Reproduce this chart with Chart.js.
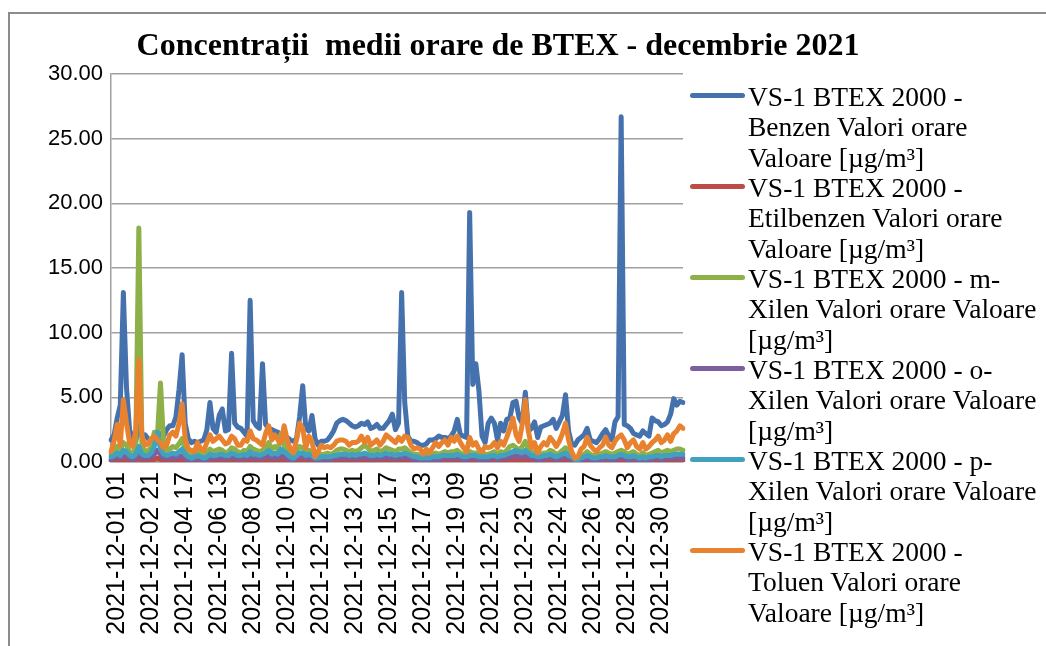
<!DOCTYPE html>
<html>
<head>
  <meta charset="utf-8" />
  <title>Concentratii medii orare de BTEX - decembrie 2021</title>
  <script src="https://cdn.jsdelivr.net/npm/chart.js"></script>
  <style>
    body { margin: 0; background: #fff; }
    #wrap { position: relative; width: 1046px; height: 646px; overflow: hidden; }
    #frame {
      position: absolute; left: 8px; top: 12px; right: -4px; bottom: -4px;
      border-left: 2px solid #8c8c8c; border-top: 2px solid #8c8c8c;
    }
    #title {
      position: absolute; left: 98px; width: 800px; top: 24px;
      text-align: center; font: bold 32px 'Liberation Serif', serif; line-height: 40px;
    }
    #chart-box { position: absolute; left: 0; top: 0; width: 1046px; height: 646px; }
    #legend { position: absolute; left: 690px; top: 82px; }
    .item { position: relative; height: 91px; }
    .swatch { position: absolute; left: 0; top: 11px; width: 55px; height: 5px; border-radius: 3px; }
    .txt {
      position: absolute; left: 58px; top: 0; white-space: nowrap;
      font: 27.5px 'Liberation Serif', serif; line-height: 30.33px; color: #000;
    }
  </style>
</head>
<body>
  <div id="wrap">
    <div id="frame"></div>
    <div id="chart-box"><canvas id="chart"></canvas></div>
    <div id="title">Concentrații&nbsp; medii orare de BTEX - decembrie 2021</div>
    <div id="legend"></div>
  </div>

  <script>
    // every 4th hourly value, starting 2021-12-01 01
    var days = [];
    for (var d = 1; d <= 31; d++) days.push(d);
    var hours = [1, 5, 9, 13, 17, 21];
    var categories = [];
    days.forEach(function (d) {
      hours.forEach(function (h) {
        categories.push('2021-12-' + String(d).padStart(2, '0') + ' ' + String(h).padStart(2, '0'));
      });
    });

    var tickLabels = ['2021-12-01 01', '2021-12-02 21', '2021-12-04 17', '2021-12-06 13', '2021-12-08 09',
      '2021-12-10 05', '2021-12-12 01', '2021-12-13 21', '2021-12-15 17', '2021-12-17 13', '2021-12-19 09',
      '2021-12-21 05', '2021-12-23 01', '2021-12-24 21', '2021-12-26 17', '2021-12-28 13', '2021-12-30 09'];

    var benzen = [
      1.7, 2.1, 3.4, 4.4, 13.1, 5.8, 2.5, 1.8, 1.6, 2.8,
      2.0, 2.1, 1.8, 1.7, 1.9, 2.0, 2.2, 2.0, 2.5, 2.8,
      2.8, 3.5, 5.6, 8.3, 3.0, 1.8, 1.5, 1.6, 1.5, 1.6,
      1.7, 2.5, 4.6, 2.6, 2.3, 3.6, 4.1, 2.4, 2.5, 8.4,
      3.0, 2.7, 2.6, 2.3, 2.0, 12.5, 3.2, 2.8, 2.6, 7.6,
      2.9, 2.6, 2.5, 2.4, 2.3, 2.1, 2.1, 1.9, 1.7, 1.6,
      1.8, 3.5, 5.9, 2.6, 2.4, 3.6, 1.8, 1.3, 1.6, 1.6,
      1.7, 2.0, 2.4, 3.0, 3.2, 3.3, 3.2, 3.0, 2.8, 2.7,
      2.8, 3.0, 2.9, 3.1, 2.6, 2.7, 2.9, 2.6, 2.6, 2.9,
      3.2, 3.7, 2.5, 3.0, 13.1, 4.6, 2.0, 1.6, 1.6, 1.5,
      1.3, 1.3, 1.4, 1.7, 1.7, 1.8, 2.0, 1.9, 1.9, 1.8,
      2.0, 2.4, 3.3, 2.1, 2.0, 1.9, 19.3, 6.0, 7.6, 5.5,
      2.0, 1.5, 3.0, 3.4, 3.0, 1.7, 3.0, 2.4, 3.3, 3.4,
      4.6, 4.7, 3.4, 3.0, 5.4, 2.4, 2.6, 3.1, 1.9, 2.7,
      2.8, 2.9, 3.0, 3.3, 2.6, 3.1, 3.6, 5.2, 2.4, 1.4,
      1.3, 1.7, 1.9, 2.1, 2.6, 1.7, 1.6, 1.5, 1.8, 2.2,
      2.5, 2.0, 1.7, 3.1, 3.5, 26.7, 2.9, 2.8, 2.6, 2.2,
      2.1, 2.0, 2.4, 2.2, 2.0, 3.4, 3.2, 3.1, 2.8, 2.9,
      3.1, 3.7, 4.9, 4.4, 4.7, 4.6
    ];

    var etilbenzen = [
      0.1, 0.1, 0.2, 0.1, 0.2, 0.2, 0.1, 0.1, 0.1, 0.3,
      0.1, 0.1, 0.1, 0.1, 0.2, 0.3, 0.2, 0.1, 0.1, 0.1,
      0.1, 0.1, 0.1, 0.2, 0.1, 0.1, 0.0, 0.1, 0.1, 0.1,
      0.0, 0.1, 0.1, 0.1, 0.1, 0.1, 0.1, 0.1, 0.1, 0.1,
      0.1, 0.1, 0.1, 0.1, 0.1, 0.2, 0.1, 0.1, 0.1, 0.1,
      0.1, 0.2, 0.1, 0.1, 0.1, 0.2, 0.1, 0.1, 0.1, 0.0,
      0.1, 0.1, 0.1, 0.1, 0.1, 0.1, 0.0, 0.0, 0.1, 0.1,
      0.1, 0.1, 0.1, 0.1, 0.1, 0.1, 0.1, 0.1, 0.1, 0.1,
      0.1, 0.1, 0.1, 0.1, 0.1, 0.1, 0.1, 0.1, 0.1, 0.1,
      0.1, 0.1, 0.1, 0.1, 0.1, 0.1, 0.1, 0.1, 0.0, 0.0,
      0.0, 0.0, 0.0, 0.0, 0.1, 0.1, 0.1, 0.1, 0.1, 0.1,
      0.1, 0.1, 0.1, 0.1, 0.1, 0.0, 0.1, 0.1, 0.1, 0.1,
      0.1, 0.1, 0.1, 0.1, 0.1, 0.1, 0.1, 0.1, 0.1, 0.2,
      0.2, 0.2, 0.2, 0.1, 0.2, 0.1, 0.1, 0.1, 0.1, 0.1,
      0.1, 0.1, 0.1, 0.1, 0.1, 0.1, 0.1, 0.2, 0.1, 0.1,
      0.0, 0.0, 0.1, 0.1, 0.1, 0.1, 0.1, 0.1, 0.1, 0.1,
      0.1, 0.1, 0.1, 0.1, 0.1, 0.1, 0.1, 0.1, 0.1, 0.1,
      0.1, 0.1, 0.1, 0.1, 0.1, 0.1, 0.1, 0.1, 0.1, 0.1,
      0.1, 0.1, 0.1, 0.1, 0.1, 0.1
    ];

    var mXilen = [
      0.6, 0.8, 1.2, 0.9, 1.5, 1.3, 0.8, 0.7, 1.0, 18.1,
      1.2, 0.8, 0.9, 1.1, 2.3, 2.0, 6.1, 1.5, 0.9, 1.0,
      1.2, 1.1, 1.4, 1.8, 0.9, 0.6, 0.5, 0.6, 0.8, 0.6,
      0.5, 0.7, 1.0, 0.8, 0.9, 1.0, 0.9, 0.7, 0.8, 1.1,
      1.0, 0.8, 0.7, 0.9, 0.8, 1.2, 1.0, 0.9, 0.8, 0.9,
      1.1, 1.5, 1.0, 1.2, 1.0, 2.2, 1.3, 0.9, 0.6, 0.5,
      0.8, 1.2, 1.1, 0.7, 0.9, 0.8, 0.4, 0.5, 0.6, 0.6,
      0.7, 0.6, 0.7, 0.9, 1.0, 1.0, 0.9, 0.8, 0.9, 0.8,
      0.9, 1.1, 1.3, 1.1, 0.8, 0.9, 1.0, 0.8, 0.9, 1.1,
      1.0, 0.9, 0.8, 1.0, 1.0, 1.1, 0.9, 0.7, 0.6, 0.6,
      0.5, 0.4, 0.5, 0.4, 0.6, 0.7, 0.6, 0.7, 0.8, 0.7,
      0.8, 0.8, 0.9, 0.7, 0.6, 0.5, 0.8, 0.7, 0.7, 0.6,
      0.5, 0.6, 0.6, 0.7, 0.8, 0.6, 0.8, 0.7, 0.9, 1.2,
      1.3, 1.1, 0.9, 1.2, 1.6, 1.0, 0.7, 0.8, 0.5, 0.6,
      0.7, 0.7, 0.9, 0.8, 0.6, 0.7, 0.9, 1.1, 0.8, 0.5,
      0.3, 0.3, 0.5, 0.6, 0.8, 0.6, 0.5, 0.5, 0.6, 0.7,
      0.8, 0.7, 0.6, 0.7, 0.8, 0.9, 0.8, 0.6, 0.7, 0.8,
      0.6, 0.5, 0.7, 0.5, 0.6, 0.7, 0.8, 0.9, 0.7, 0.8,
      0.9, 0.8, 0.9, 1.0, 1.0, 0.9
    ];

    var oXilen = [
      0.2, 0.3, 0.4, 0.3, 0.5, 0.4, 0.3, 0.2, 0.3, 0.7,
      0.3, 0.3, 0.3, 0.4, 0.6, 0.9, 0.6, 0.3, 0.3, 0.3,
      0.4, 0.3, 0.4, 0.5, 0.3, 0.2, 0.2, 0.2, 0.3, 0.2,
      0.2, 0.2, 0.3, 0.3, 0.3, 0.3, 0.3, 0.3, 0.3, 0.4,
      0.3, 0.3, 0.3, 0.3, 0.3, 0.4, 0.3, 0.3, 0.3, 0.3,
      0.4, 0.5, 0.3, 0.4, 0.3, 0.5, 0.4, 0.3, 0.2, 0.2,
      0.3, 0.4, 0.4, 0.3, 0.3, 0.3, 0.2, 0.2, 0.2, 0.2,
      0.2, 0.2, 0.3, 0.3, 0.3, 0.3, 0.3, 0.3, 0.3, 0.3,
      0.3, 0.3, 0.4, 0.3, 0.3, 0.3, 0.3, 0.3, 0.3, 0.4,
      0.3, 0.3, 0.3, 0.3, 0.3, 0.4, 0.3, 0.3, 0.2, 0.2,
      0.2, 0.2, 0.2, 0.2, 0.2, 0.2, 0.2, 0.3, 0.3, 0.3,
      0.3, 0.3, 0.3, 0.3, 0.2, 0.2, 0.3, 0.3, 0.3, 0.2,
      0.2, 0.2, 0.2, 0.3, 0.3, 0.2, 0.3, 0.3, 0.3, 0.4,
      0.4, 0.5, 0.4, 0.4, 0.5, 0.4, 0.3, 0.3, 0.2, 0.2,
      0.3, 0.3, 0.3, 0.3, 0.2, 0.3, 0.3, 0.4, 0.3, 0.2,
      0.1, 0.1, 0.2, 0.2, 0.3, 0.2, 0.2, 0.2, 0.2, 0.2,
      0.3, 0.2, 0.2, 0.2, 0.3, 0.3, 0.3, 0.2, 0.2, 0.3,
      0.2, 0.2, 0.2, 0.2, 0.2, 0.2, 0.3, 0.3, 0.2, 0.3,
      0.3, 0.3, 0.3, 0.3, 0.3, 0.3
    ];

    var pXilen = [
      0.4, 0.5, 0.7, 0.5, 0.9, 0.8, 0.5, 0.4, 0.6, 1.2,
      0.6, 0.5, 0.5, 0.7, 1.2, 2.3, 1.0, 0.6, 0.5, 0.6,
      0.7, 0.6, 0.8, 1.0, 0.6, 0.4, 0.3, 0.4, 0.5, 0.4,
      0.3, 0.4, 0.6, 0.5, 0.5, 0.6, 0.6, 0.5, 0.5, 0.7,
      0.6, 0.5, 0.5, 0.6, 0.5, 0.8, 0.6, 0.6, 0.5, 0.6,
      0.7, 0.9, 0.6, 0.7, 0.6, 1.0, 0.8, 0.6, 0.4, 0.3,
      0.5, 0.7, 0.7, 0.5, 0.6, 0.5, 0.3, 0.3, 0.4, 0.4,
      0.4, 0.4, 0.5, 0.5, 0.6, 0.6, 0.6, 0.5, 0.6, 0.5,
      0.6, 0.6, 0.7, 0.6, 0.5, 0.5, 0.6, 0.5, 0.6, 0.7,
      0.6, 0.6, 0.5, 0.6, 0.6, 0.7, 0.6, 0.5, 0.4, 0.4,
      0.3, 0.3, 0.3, 0.3, 0.4, 0.4, 0.4, 0.5, 0.5, 0.5,
      0.5, 0.5, 0.6, 0.5, 0.4, 0.4, 0.5, 0.5, 0.5, 0.4,
      0.4, 0.4, 0.4, 0.5, 0.5, 0.4, 0.5, 0.5, 0.6, 0.7,
      0.8, 0.9, 0.8, 0.7, 0.9, 0.7, 0.5, 0.5, 0.4, 0.4,
      0.5, 0.5, 0.6, 0.5, 0.4, 0.5, 0.6, 0.7, 0.5, 0.4,
      0.2, 0.2, 0.3, 0.4, 0.5, 0.4, 0.3, 0.3, 0.4, 0.4,
      0.5, 0.4, 0.4, 0.4, 0.5, 0.6, 0.5, 0.4, 0.4, 0.5,
      0.4, 0.3, 0.4, 0.3, 0.4, 0.4, 0.5, 0.5, 0.4, 0.5,
      0.5, 0.5, 0.6, 0.6, 0.6, 0.6
    ];

    var toluen = [
      0.8, 1.6, 2.9, 1.3, 4.8, 3.0, 1.5, 1.2, 2.4, 7.9,
      2.0, 1.3, 1.4, 1.8, 2.0, 1.7, 1.5, 1.1, 1.3, 2.1,
      2.3, 2.0, 3.0, 4.5, 1.8, 1.0, 0.9, 0.8, 1.5, 1.0,
      0.9, 1.5, 2.1, 1.6, 1.8, 2.0, 1.7, 1.4, 1.5, 2.0,
      1.8, 1.3, 1.3, 1.7, 1.6, 2.4, 1.8, 1.7, 1.5, 1.3,
      2.2, 2.8, 1.7, 2.1, 1.7, 1.5, 2.8, 1.7, 1.0, 0.7,
      1.7, 3.0, 2.6, 1.1, 2.0, 1.6, 0.4, 0.8, 1.3, 1.1,
      1.2, 1.1, 1.3, 1.6, 1.7, 1.7, 1.6, 1.3, 1.5, 1.5,
      1.6, 2.0, 1.5, 1.9, 1.3, 1.5, 1.7, 1.3, 1.6, 2.1,
      1.9, 1.7, 1.5, 1.9, 1.6, 2.0, 1.9, 1.3, 1.0, 1.1,
      1.0, 0.6, 1.0, 0.7, 1.1, 1.5, 1.2, 1.5, 1.7, 1.3,
      1.9, 1.6, 2.0, 1.5, 1.1, 0.8, 1.9, 1.3, 1.5, 1.0,
      0.8, 1.2, 1.1, 1.2, 1.5, 1.1, 1.6, 1.3, 1.9, 2.6,
      3.4, 2.1, 1.6, 2.9, 4.8, 2.4, 1.1, 1.5, 0.7, 1.2,
      1.5, 1.3, 1.9, 1.6, 1.2, 1.6, 2.2, 3.0, 1.7, 0.8,
      0.3, 0.4, 1.0, 1.2, 1.9, 1.3, 1.0, 0.8, 1.1, 1.3,
      1.9, 1.3, 1.1, 1.6, 1.9, 2.1, 1.7, 1.1, 1.5, 1.7,
      1.2, 1.0, 1.5, 1.0, 1.2, 1.5, 1.7, 2.0, 1.5, 1.7,
      2.1, 1.6, 2.2, 2.4, 2.8, 2.6
    ];

    var seriesNames = [
      ['VS-1 BTEX 2000 -', 'Benzen Valori orare', 'Valoare [µg/m³]'],
      ['VS-1 BTEX 2000 -', 'Etilbenzen Valori orare', 'Valoare [µg/m³]'],
      ['VS-1 BTEX 2000 - m-', 'Xilen Valori orare Valoare', '[µg/m³]'],
      ['VS-1 BTEX 2000 - o-', 'Xilen Valori orare Valoare', '[µg/m³]'],
      ['VS-1 BTEX 2000 - p-', 'Xilen Valori orare Valoare', '[µg/m³]'],
      ['VS-1 BTEX 2000 -', 'Toluen Valori orare', 'Valoare [µg/m³]']
    ];
    var seriesData = [benzen, etilbenzen, mXilen, oXilen, pXilen, toluen];
    var colors = ['#4572AD', '#BE4B48', '#8DB048', '#7D5FA0', '#41A2C0', '#E9822F'];

    // excel draws later series on top
    var datasets = seriesData.map(function (vals, i) {
      return {
        label: seriesNames[i].join(' '),
        data: vals,
        borderColor: colors[i],
        backgroundColor: colors[i],
        borderWidth: 5,
        pointRadius: 0,
        tension: 0,
        borderJoinStyle: 'round',
        borderCapStyle: 'round',
        order: seriesData.length - i
      };
    });

    // html legend, names wrap like the original
    var legend = document.getElementById('legend');
    seriesNames.forEach(function (lines, i) {
      var item = document.createElement('div');
      item.className = 'item';
      item.innerHTML = '<div class="swatch" style="background:' + colors[i] + '"></div>' +
        '<div class="txt">' + lines.join('<br>') + '</div>';
      legend.appendChild(item);
    });

    Chart.defaults.font.family = "'Liberation Sans', Arial, sans-serif";
    Chart.defaults.color = '#000';

    var ctx = document.getElementById('chart').getContext('2d');
    new Chart(ctx, {
      type: 'line',
      data: { labels: categories, datasets: datasets },
      options: {
        responsive: true,
        maintainAspectRatio: false,
        animation: false,
        layout: { padding: { left: 0, top: 74, right: 363, bottom: 0 } },
        plugins: {
          legend: { display: false },
          title: { display: false },
          tooltip: { enabled: false }
        },
        scales: {
          x: {
            type: 'category',
            offset: false,
            grid: { display: false, drawTicks: false },
            border: { display: true, color: '#a0a0a0', width: 1.5 },
            ticks: {
              autoSkip: false,
              minRotation: 90,
              maxRotation: 90,
              padding: 10,
              labelOffset: 6,
              font: { size: 25 },
              callback: function (value, index) {
                var lab = categories[index];
                return tickLabels.indexOf(lab) >= 0 ? lab : '';
              }
            },
            afterFit: function (scale) { scale.height = 184; }
          },
          y: {
            min: 0,
            max: 30,
            grid: { color: '#a0a0a0', lineWidth: 1.5, drawTicks: false },
            border: { display: true, color: '#a0a0a0', width: 1.5 },
            ticks: {
              stepSize: 5,
              padding: 8,
              font: { size: 22 },
              callback: function (v) { return v.toFixed(2); }
            },
            afterFit: function (scale) { scale.width = 111; }
          }
        }
      }
    });
  </script>
</body>
</html>
